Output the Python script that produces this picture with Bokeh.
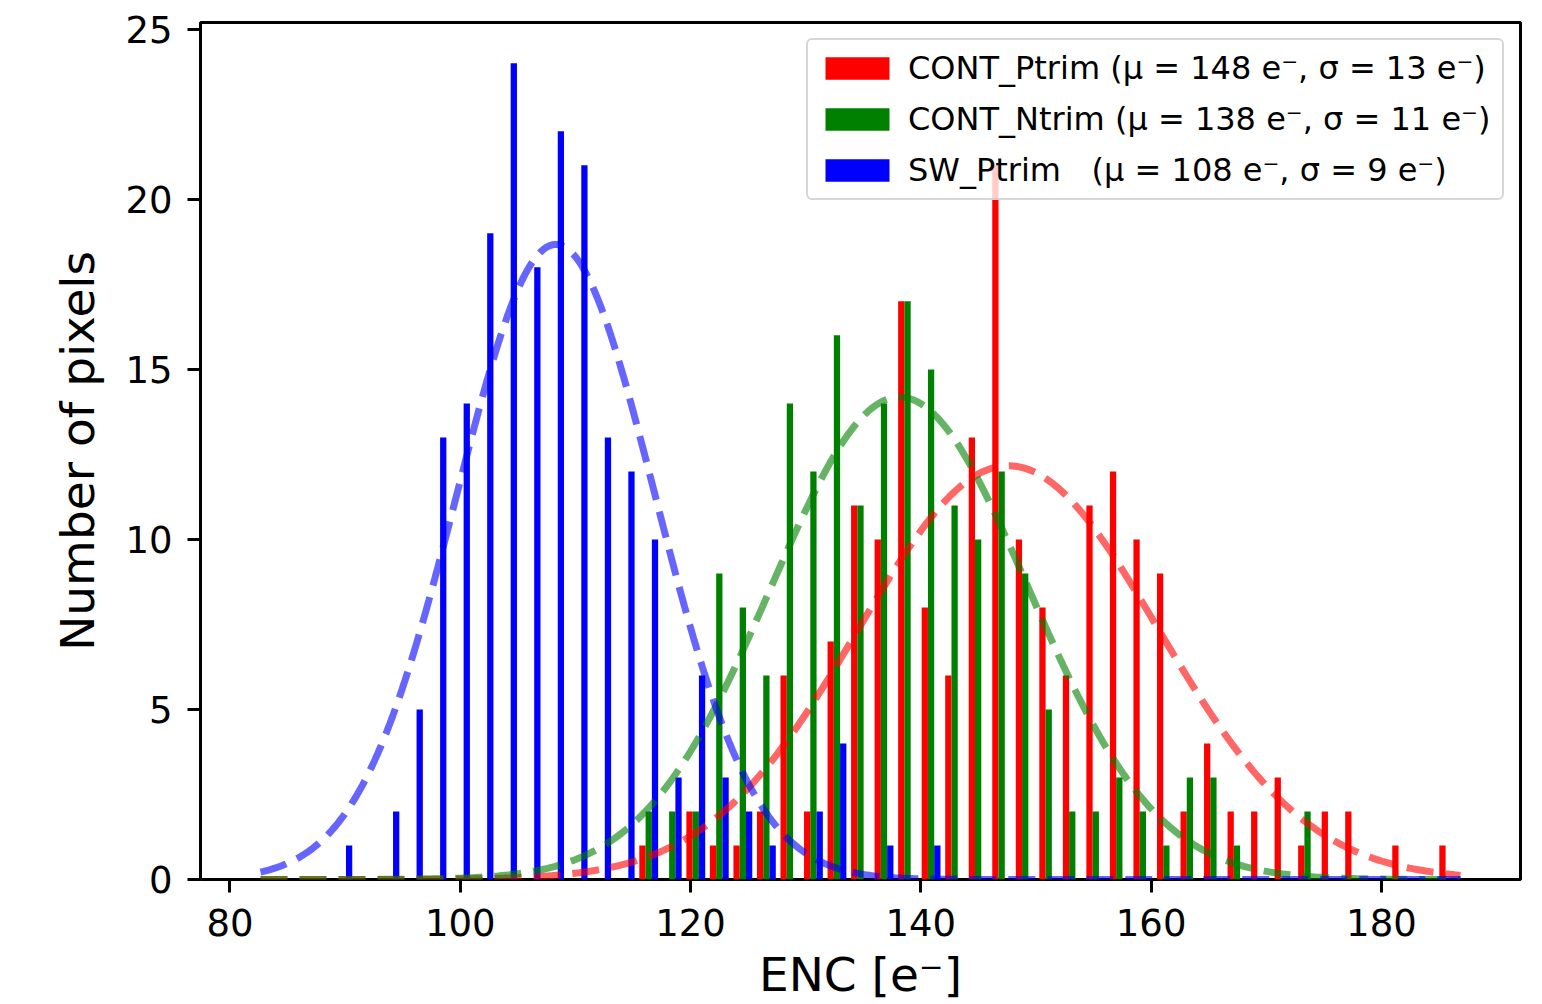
import numpy as np
from bokeh.plotting import figure
from bokeh.models import FixedTicker, Range1d
from bokeh.embed import file_html
from bokeh.resources import INLINE

# ---- data -------------------------------------------------------------
# histogram bins over ENC [e-] (51 bins)
bin_start = 82.65
bin_width = 2.0435
n_bins = 51

# counts per bin (bin 0 .. bin 50)
cont_ptrim = [0, 0, 0, 0, 0,   0, 0, 0, 0, 0,   0, 0, 0, 0, 0,
              0, 1, 0, 2, 1,   1, 2, 6, 2, 7,   11, 10, 17, 8, 6,
              13, 21, 10, 8, 6,  11, 12, 10, 9, 2,  4, 2, 2, 3, 1,
              2, 2, 0, 1, 0,   1]
cont_ntrim = [0, 0, 0, 0, 0,   0, 0, 0, 0, 0,   0, 0, 0, 0, 0,
              0, 2, 2, 2, 9,   8, 6, 14, 12, 16,  11, 14, 17, 15, 11,
              10, 12, 9, 5, 2,  2, 3, 2, 1, 3,   3, 1, 0, 0, 2,
              0, 0, 0, 0, 0,   0]
sw_ptrim = [0, 0, 0, 1, 0,   2, 5, 13, 14, 19,  24, 18, 22, 21, 13,
            12, 10, 3, 6, 3,  2, 1, 0, 2, 4,   0, 1, 0, 1, 0,
            0, 0, 0, 0, 0,   0, 0, 0, 0, 0,   0, 0, 0, 0, 0,
            0, 0, 0, 0, 0,   0]

# gaussian fit parameters (mean, sigma) in e-
fit_mu = [147.6, 138.15, 108.3]
fit_sigma = [13.0, 11.15, 8.6]

labels = ["CONT_Ptrim (\u03bc = 148 e\u207b, \u03c3 = 13 e\u207b)",
          "CONT_Ntrim (\u03bc = 138 e\u207b, \u03c3 = 11 e\u207b)",
          "SW_Ptrim \u00a0 (\u03bc = 108 e\u207b, \u03c3 = 9 e\u207b)"]
colors = ["#ff0000", "#008000", "#0000ff"]

x_ticks = [80, 100, 120, 140, 160, 180]
y_ticks = [0, 5, 10, 15, 20, 25]

# ---- figure -----------------------------------------------------------
FONT = "DejaVu Sans"
p = figure(width=1530, height=1004,
           x_range=Range1d(77.44, 192.08), y_range=Range1d(0, 25.2),
           output_backend="svg", toolbar_location=None,
           min_border_left=200, min_border_right=10,
           min_border_top=22, min_border_bottom=124)
p.xgrid.visible = False
p.ygrid.visible = False
p.background_fill_color = "white"
p.border_fill_color = "white"
p.outline_line_color = "black"
p.outline_line_width = 3
p.outline_line_alpha = 1.0

edges = bin_start + bin_width * np.arange(n_bins + 1)
bw = 0.8 * bin_width / 3.0
base_x = edges[:-1] + 0.1 * bin_width + 0.5 * bw

series = [cont_ptrim, cont_ntrim, sw_ptrim]
for k, (counts, col, lab) in enumerate(zip(series, colors, labels)):
    p.vbar(x=base_x + k * bw, width=bw, top=counts, bottom=0,
           fill_color=col, line_color=None, legend_label=lab)

xs = np.linspace(edges[0], edges[-1], 400)
for counts, col, mu, sg in zip(series, colors, fit_mu, fit_sigma):
    amp = sum(counts) * bin_width / (sg * np.sqrt(2 * np.pi))
    ys = amp * np.exp(-(xs - mu) ** 2 / (2 * sg ** 2))
    p.line(xs, ys, line_color=col, line_alpha=0.6, line_width=7,
           line_dash="27 12")

# axes
for ax in (p.xaxis[0], p.yaxis[0]):
    ax.axis_line_color = None
    ax.major_tick_in = 0
    ax.major_tick_out = 13
    ax.major_tick_line_width = 3
    ax.major_tick_line_color = "black"
    ax.minor_tick_line_color = None
    ax.major_label_text_font = FONT
    ax.major_label_text_font_size = "37px"
    ax.major_label_text_color = "black"
    ax.axis_label_text_font = FONT
    ax.axis_label_text_font_size = "47px"
    ax.axis_label_text_font_style = "normal"
    ax.axis_label_text_color = "black"
p.xaxis.ticker = FixedTicker(ticks=x_ticks)
p.yaxis.ticker = FixedTicker(ticks=y_ticks)
p.xaxis.major_label_standoff = 16
p.yaxis.major_label_standoff = 15

p.yaxis.axis_label = "Number of pixels"
p.yaxis.axis_label_standoff = 17
p.xaxis.axis_label = "ENC [e\u207b]"
p.xaxis.axis_label_standoff = 8

# legend
leg = p.legend[0]
leg.location = "top_right"
leg.margin = 16
leg.padding = 9
leg.spacing = 13
leg.glyph_width = 80
leg.glyph_height = 28
leg.label_standoff = 11
leg.label_width = 585
leg.label_text_font = FONT
leg.label_text_font_size = "32px"
leg.label_text_color = "black"
leg.border_line_color = "#cccccc"
leg.border_line_width = 2
leg.border_line_alpha = 0.8
leg.background_fill_color = "white"
leg.background_fill_alpha = 0.8
if "border_radius" in leg.properties():
    leg.border_radius = 6

open("out.html", "w").write(file_html(p, INLINE))
